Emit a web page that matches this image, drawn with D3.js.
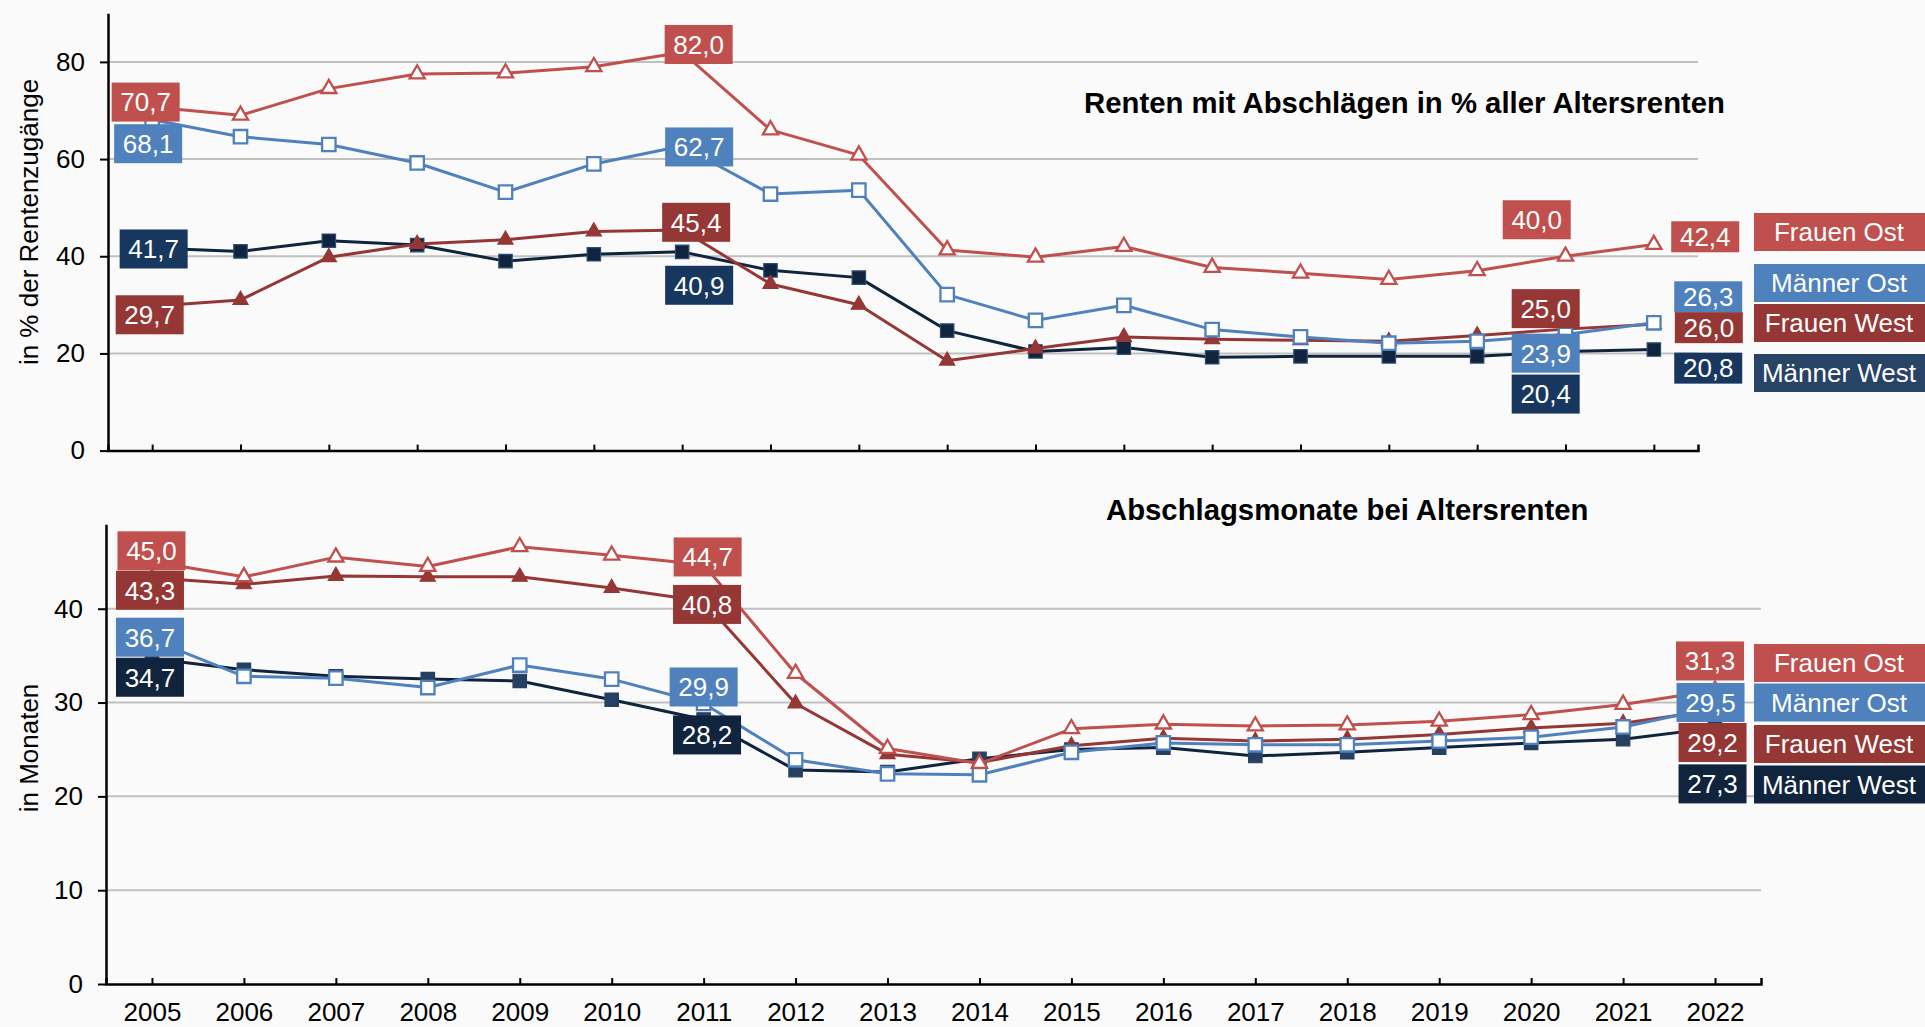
<!DOCTYPE html>
<html>
<head>
<meta charset="utf-8">
<script src="https://cdn.jsdelivr.net/npm/d3@7"></script>
<style>
  body { margin: 0; background: #fafafa; }
  svg { display: block; font-family: "Liberation Sans", Arial, sans-serif; }
</style>
</head>
<body>
<svg id="chart"></svg>
<script>
// years on the x axis (same for both panels)
const years = ["2005", "2006", "2007", "2008", "2009", "2010", "2011", "2012", "2013",
  "2014", "2015", "2016", "2017", "2018", "2019", "2020", "2021", "2022"];

// upper panel: Renten mit Abschlägen in % aller Altersrenten
const frauenOstPct = [70.7, 69.0, 74.5, 77.5, 77.7, 79.0, 82.0, 66.0, 60.8, 41.3, 39.8, 42.0, 37.7, 36.5, 35.2, 37.0, 40.0, 42.4];
const maennerOstPct = [68.1, 64.6, 63.0, 59.2, 53.2, 59.0, 62.7, 52.8, 53.6, 32.1, 26.8, 29.9, 24.9, 23.4, 22.1, 22.5, 23.9, 26.3];
const frauenWestPct = [29.7, 31.0, 39.8, 42.5, 43.4, 45.1, 45.4, 34.3, 30.0, 18.5, 21.0, 23.4, 22.9, 22.7, 22.5, 23.7, 25.0, 26.0];
const maennerWestPct = [41.7, 41.0, 43.2, 42.3, 39.0, 40.4, 40.9, 37.1, 35.6, 24.7, 20.4, 21.2, 19.2, 19.4, 19.4, 19.4, 20.4, 20.8];

// lower panel: Abschlagsmonate bei Altersrenten
const frauenOstMon = [45.0, 43.4, 45.5, 44.5, 46.6, 45.7, 44.7, 33.1, 25.1, 23.5, 27.2, 27.7, 27.5, 27.6, 28.0, 28.7, 29.8, 31.3];
const frauenWestMon = [43.3, 42.6, 43.5, 43.4, 43.4, 42.2, 40.8, 29.9, 24.5, 23.6, 25.4, 26.2, 25.9, 26.1, 26.6, 27.3, 27.8, 29.2];
const maennerOstMon = [36.7, 32.8, 32.6, 31.6, 34.0, 32.5, 29.9, 23.9, 22.4, 22.3, 24.7, 25.7, 25.5, 25.5, 25.9, 26.3, 27.4, 29.5];
const maennerWestMon = [34.7, 33.5, 32.8, 32.5, 32.3, 30.3, 28.2, 22.8, 22.6, 24.0, 25.0, 25.2, 24.3, 24.7, 25.2, 25.7, 26.1, 27.3];

const pctTicks = [0, 20, 40, 60, 80];
const monTicks = [0, 10, 20, 30, 40];
const seriesNames = ["Männer West", "Frauen West", "Männer Ost", "Frauen Ost"];

const width = 1925, height = 1027;
const font = 26;
const fmt = (v) => d3.format(".1f")(v).replace(".", ",");

const col = {
  fo: "#C0504D",
  fw: "#953735",
  mo: "#4F81BD",
  mw: "#10243E"
};

const svg = d3.select("#chart").attr("width", width).attr("height", height);
svg.append("rect").attr("width", width).attr("height", height).attr("fill", "#fafafa");

function panel(opt) {
  const g = svg.append("g");
  const x = d3.scalePoint().domain(years).range([opt.left, opt.right]).padding(0.5);
  const y = d3.scaleLinear().domain([0, opt.max]).range([opt.bottom, opt.top]);

  // grid
  g.append("g")
    .selectAll("line")
    .data(opt.ticks.filter((d) => d > 0))
    .join("line")
    .attr("x1", opt.left).attr("x2", opt.right)
    .attr("y1", (d) => y(d)).attr("y2", (d) => y(d))
    .attr("stroke", "#c0c0c0").attr("stroke-width", 2);

  // y axis
  const yAxis = g.append("g")
    .attr("transform", `translate(${opt.left},0)`)
    .call(d3.axisLeft(y).tickValues(opt.ticks).tickSize(8).tickSizeOuter(0).tickPadding(15));
  yAxis.select(".domain").attr("stroke", "#000").attr("stroke-width", 2.5);
  yAxis.selectAll(".tick line").attr("stroke", "#000").attr("stroke-width", 2);
  yAxis.selectAll(".tick text")
    .attr("font-size", font).attr("fill", "#000")
    .attr("font-family", "Liberation Sans, Arial, sans-serif");

  // x axis, ticks pointing up
  const xAxis = g.append("g")
    .attr("transform", `translate(0,${opt.bottom})`)
    .call(d3.axisBottom(x).tickSize(-6).tickSizeOuter(-6).tickPadding(0));
  xAxis.select(".domain").attr("stroke", "#000").attr("stroke-width", 2.5);
  xAxis.selectAll(".tick line").attr("stroke", "#000").attr("stroke-width", 2);
  if (opt.yearLabels) {
    xAxis.selectAll(".tick text")
      .attr("y", 37).attr("dy", 0)
      .attr("font-size", font).attr("fill", "#000")
      .attr("font-family", "Liberation Sans, Arial, sans-serif");
  } else {
    xAxis.selectAll(".tick text").remove();
  }

  // y title
  g.append("text")
    .attr("transform", `translate(38,${opt.titleY}) rotate(-90)`)
    .attr("text-anchor", "middle")
    .attr("font-size", font)
    .text(opt.yTitle);

  // panel title
  g.append("text")
    .attr("x", opt.headX).attr("y", opt.headY)
    .attr("text-anchor", opt.headAnchor)
    .attr("font-size", 29.3).attr("font-weight", "bold")
    .text(opt.head);

  const line = d3.line().x((d, i) => x(years[i])).y((d) => y(d));

  const tri = d3.symbol().type(d3.symbolTriangle).size(100);
  const sq = d3.symbol().type(d3.symbolSquare).size(180);

  opt.series.forEach((s) => {
    g.append("path")
      .attr("d", line(s.values))
      .attr("fill", "none")
      .attr("stroke", s.color)
      .attr("stroke-width", 3)
      .attr("stroke-linejoin", "round");
    g.append("g")
      .selectAll("path")
      .data(s.values)
      .join("path")
      .attr("transform", (d, i) => `translate(${x(years[i])},${y(d)})`)
      .attr("d", s.shape === "tri" ? tri : sq)
      .attr("fill", s.fill)
      .attr("stroke", s.stroke)
      .attr("stroke-width", s.open ? 2.3 : 1.2);
  });

  // value labels
  const bySeries = {};
  opt.series.forEach((s) => (bySeries[s.key] = s));
  opt.labels.forEach((l) => {
    const s = bySeries[l.key];
    const v = s.values[l.i];
    const cx = x(years[l.i]) + l.dx, cy = y(v) + l.dy;
    const w = 68, h = l.h || 39;
    g.append("rect")
      .attr("x", cx - w / 2).attr("y", cy - h / 2)
      .attr("width", w).attr("height", h)
      .attr("fill", l.bg || s.label);
    g.append("text")
      .attr("x", cx).attr("y", cy).attr("dy", "0.36em")
      .attr("text-anchor", "middle")
      .attr("font-size", font).attr("fill", "#fff")
      .text(fmt(v));
  });

  // legend boxes on the right
  opt.legend.forEach((l) => {
    const s = bySeries[l.key];
    g.append("rect")
      .attr("x", 1754).attr("y", l.cy - 19)
      .attr("width", 180).attr("height", 38)
      .attr("fill", l.bg || s.label);
    g.append("text")
      .attr("x", 1839).attr("y", l.cy).attr("dy", "0.36em")
      .attr("text-anchor", "middle")
      .attr("font-size", font).attr("fill", "#fff")
      .text(s.name);
  });
}

panel({
  left: 108, right: 1698, bottom: 450.6, top: 13.3, max: 90,
  ticks: pctTicks, yearLabels: false,
  yTitle: "in % der Rentenzugänge", titleY: 222,
  head: "Renten mit Abschlägen in % aller Altersrenten", headX: 1725, headY: 113, headAnchor: "end",
  series: [
    { key: "mw", name: seriesNames[0], values: maennerWestPct, color: col.mw, shape: "sq", fill: "#10243E", stroke: "#2c4d75", label: "#17375E" },
    { key: "fw", name: seriesNames[1], values: frauenWestPct, color: col.fw, shape: "tri", fill: col.fw, stroke: col.fw, label: col.fw },
    { key: "mo", name: seriesNames[2], values: maennerOstPct, color: col.mo, shape: "sq", fill: "#fff", stroke: col.mo, open: true, label: col.mo },
    { key: "fo", name: seriesNames[3], values: frauenOstPct, color: col.fo, shape: "tri", fill: "#fff", stroke: col.fo, open: true, label: col.fo }
  ],
  labels: [
    { key: "fo", i: 0, dx: -6.5, dy: -5 },
    { key: "mo", i: 0, dx: -4, dy: 24 },
    { key: "mw", i: 0, dx: 1.5, dy: 1 },
    { key: "fw", i: 0, dx: -2.5, dy: 8.5 },
    { key: "fo", i: 6, dx: 16.5, dy: -7.7 },
    { key: "mo", i: 6, dx: 17, dy: 1 },
    { key: "fw", i: 6, dx: 14, dy: -7.7 },
    { key: "mw", i: 6, dx: 17, dy: 33.4 },
    { key: "fo", i: 16, dx: -28.8, dy: -36.5 },
    { key: "fw", i: 16, dx: -19.8, dy: -20.5 },
    { key: "mo", i: 16, dx: -19.8, dy: 18.7 },
    { key: "mw", i: 16, dx: -19.8, dy: 42.6 },
    { key: "fo", i: 17, dx: 51.4, dy: -7.8, h: 31 },
    { key: "mo", i: 17, dx: 54.4, dy: -26, h: 31 },
    { key: "fw", i: 17, dx: 55, dy: 3.4, h: 31 },
    { key: "mw", i: 17, dx: 54.4, dy: 18.6, h: 31 }
  ],
  legend: [
    { key: "fo", cy: 232 },
    { key: "mo", cy: 283 },
    { key: "fw", cy: 323 },
    { key: "mw", cy: 373, bg: "#274366" }
  ]
});

panel({
  left: 106, right: 1761, bottom: 984, top: 524.3, max: 49,
  ticks: monTicks, yearLabels: true,
  yTitle: "in Monaten", titleY: 748,
  head: "Abschlagsmonate bei Altersrenten", headX: 1106, headY: 520, headAnchor: "start",
  series: [
    { key: "mw", name: seriesNames[0], values: maennerWestMon, color: col.mw, shape: "sq", fill: "#254061", stroke: "#254061", label: "#10243E" },
    { key: "fw", name: seriesNames[1], values: frauenWestMon, color: col.fw, shape: "tri", fill: col.fw, stroke: col.fw, label: col.fw },
    { key: "mo", name: seriesNames[2], values: maennerOstMon, color: col.mo, shape: "sq", fill: "#fff", stroke: col.mo, open: true, label: col.mo },
    { key: "fo", name: seriesNames[3], values: frauenOstMon, color: col.fo, shape: "tri", fill: "#fff", stroke: col.fo, open: true, label: col.fo }
  ],
  labels: [
    { key: "fo", i: 0, dx: -0.5, dy: -11 },
    { key: "fw", i: 0, dx: -2, dy: 12.5 },
    { key: "mo", i: 0, dx: -2, dy: -2.5 },
    { key: "mw", i: 0, dx: -2, dy: 18.8 },
    { key: "fo", i: 6, dx: 4, dy: -7.7 },
    { key: "fw", i: 6, dx: 3.4, dy: 3.2 },
    { key: "mo", i: 6, dx: 0, dy: -16.5 },
    { key: "mw", i: 6, dx: 3.4, dy: 15.5 },
    { key: "fo", i: 17, dx: -5, dy: -29.4 },
    { key: "mo", i: 17, dx: -4.5, dy: -4.8 },
    { key: "fw", i: 17, dx: -2.5, dy: 32.4 },
    { key: "mw", i: 17, dx: -2.5, dy: 56 }
  ],
  legend: [
    { key: "fo", cy: 663 },
    { key: "mo", cy: 702.5 },
    { key: "fw", cy: 744 },
    { key: "mw", cy: 784.5 }
  ]
});
</script>
</body>
</html>
